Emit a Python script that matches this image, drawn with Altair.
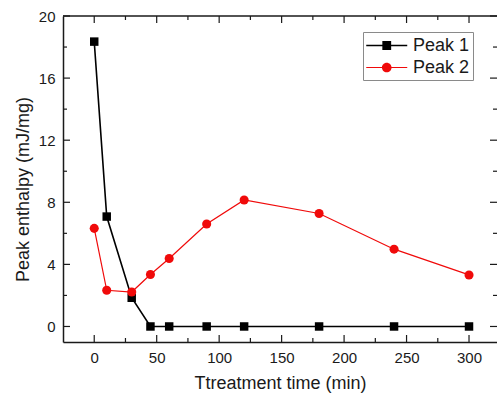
import altair as alt
import pandas as pd

# ---- data ----
time = [0, 10, 30, 45, 60, 90, 120, 180, 240, 300]
peak1 = [18.35, 7.08, 1.85, 0, 0, 0, 0, 0, 0, 0]
peak2 = [6.32, 2.33, 2.22, 3.35, 4.38, 6.6, 8.15, 7.28, 4.98, 3.32]
series = ["Peak 1", "Peak 2"]
colors = ["#000000", "#f00a0a"]

x_major = [0, 50, 100, 150, 200, 250, 300]
x_minor = [25, 75, 125, 175, 225, 275]
y_major = [0, 4, 8, 12, 16, 20]
y_minor = [2, 6, 10, 14, 18]

W, H = 434, 326
FONT = "Liberation Sans"
INK = "#1a1a1a"

df = pd.DataFrame({
    "time": time * 2,
    "value": peak1 + peak2,
    "series": [series[0]] * len(time) + [series[1]] * len(time),
})

xs = alt.Scale(domain=[-25, 322.4], nice=False, zero=False)
ys = alt.Scale(domain=[-1, 20], nice=False, zero=False)

x_axis = alt.Axis(values=x_major, ticks=False, grid=False, domainColor=INK, domainWidth=1.5,
                  labelFont=FONT, labelFontSize=15, labelColor=INK, labelPadding=8,
                  title="Ttreatment time (min)", titleFont=FONT, titleFontSize=18,
                  titleFontWeight="normal", titleColor=INK, titlePadding=9)
y_axis = alt.Axis(values=y_major, ticks=False, grid=False, domainColor=INK, domainWidth=1.5,
                  labelFont=FONT, labelFontSize=15, labelColor=INK, labelPadding=8,
                  title="Peak enthalpy (mJ/mg)", titleFont=FONT, titleFontSize=18,
                  titleFontWeight="normal", titleColor=INK, titlePadding=6, titleY=173)

X = lambda f: alt.X(f, scale=xs, axis=x_axis)
Y = lambda f: alt.Y(f, scale=ys, axis=y_axis)

base = alt.Chart(df).encode(x=X("time:Q"), y=Y("value:Q"))

line1 = base.transform_filter(alt.datum.series == series[0]).mark_line(color=colors[0], strokeWidth=1.6)
line2 = base.transform_filter(alt.datum.series == series[1]).mark_line(color=colors[1], strokeWidth=1.2)
pts1 = base.transform_filter(alt.datum.series == series[0]).mark_point(
    shape="square", filled=True, size=72, color=colors[0], opacity=1)
pts2 = base.transform_filter(alt.datum.series == series[1]).mark_point(
    shape="circle", filled=True, size=82, color=colors[1], opacity=1)

# legend: line + marker symbols as custom paths
sym1 = "M-1,-0.075H3V0.075H-1Z M0.57,-0.43H1.43V0.43H0.57Z"
sym2 = "M-1,-0.06H3V0.06H-1Z M0.53,0 A0.47,0.47 0 1,1 1.47,0 A0.47,0.47 0 1,1 0.53,0 Z"
leg = alt.Legend(title=None, orient="none", legendX=300, legendY=16, symbolSize=420,
                 symbolStrokeWidth=0, labelFont=FONT, labelFontSize=18, labelColor=INK,
                 labelOffset=26, strokeColor="#8a8a8a", padding=3, rowPadding=2)
legend_layer = alt.Chart(df).transform_filter("false").mark_point(filled=True, opacity=1).encode(
    x=X("time:Q"), y=Y("value:Q"),
    color=alt.Color("series:N", scale=alt.Scale(domain=series, range=colors), legend=leg),
    shape=alt.Shape("series:N", scale=alt.Scale(domain=series, range=[sym1, sym2]), legend=leg),
)

# inward ticks and top frame
def xticks(vals, length, top):
    d = pd.DataFrame({"v": vals})
    y0 = 0 if top else H
    y1 = length if top else H - length
    return alt.Chart(d).mark_rule(color=INK, strokeWidth=1.2).encode(
        x=X("v:Q"), y=alt.value(y0), y2=alt.value(y1))

def yticks(vals, length, right):
    d = pd.DataFrame({"v": vals})
    x0 = W if right else 0
    x1 = W - length if right else length
    return alt.Chart(d).mark_rule(color=INK, strokeWidth=1.2).encode(
        y=Y("v:Q"), x=alt.value(x0), x2=alt.value(x1))

top_frame = alt.Chart(pd.DataFrame({"a": [0]})).mark_rule(color=INK, strokeWidth=1.5).encode(
    x=alt.value(0), x2=alt.value(W), y=alt.value(0))

ticks = [
    xticks(x_major, 7, False), xticks(x_minor, 4, False),
    xticks(x_major, 7, True), xticks(x_minor, 4, True),
    yticks(y_major, 7, False), yticks(y_minor, 4, False),
    yticks(y_major, 7, True), yticks(y_minor, 4, True),
]

chart = alt.layer(
    line1, line2, pts1, pts2, legend_layer, *ticks, top_frame
).properties(
    width=W, height=H,
    autosize=alt.AutoSizeParams(type="none"),
    padding={"left": 63, "top": 16, "right": 0, "bottom": 58},
    background="white",
).configure_view(stroke=None)

chart.save("out.html", embed_options={"renderer": "svg", "actions": False})
